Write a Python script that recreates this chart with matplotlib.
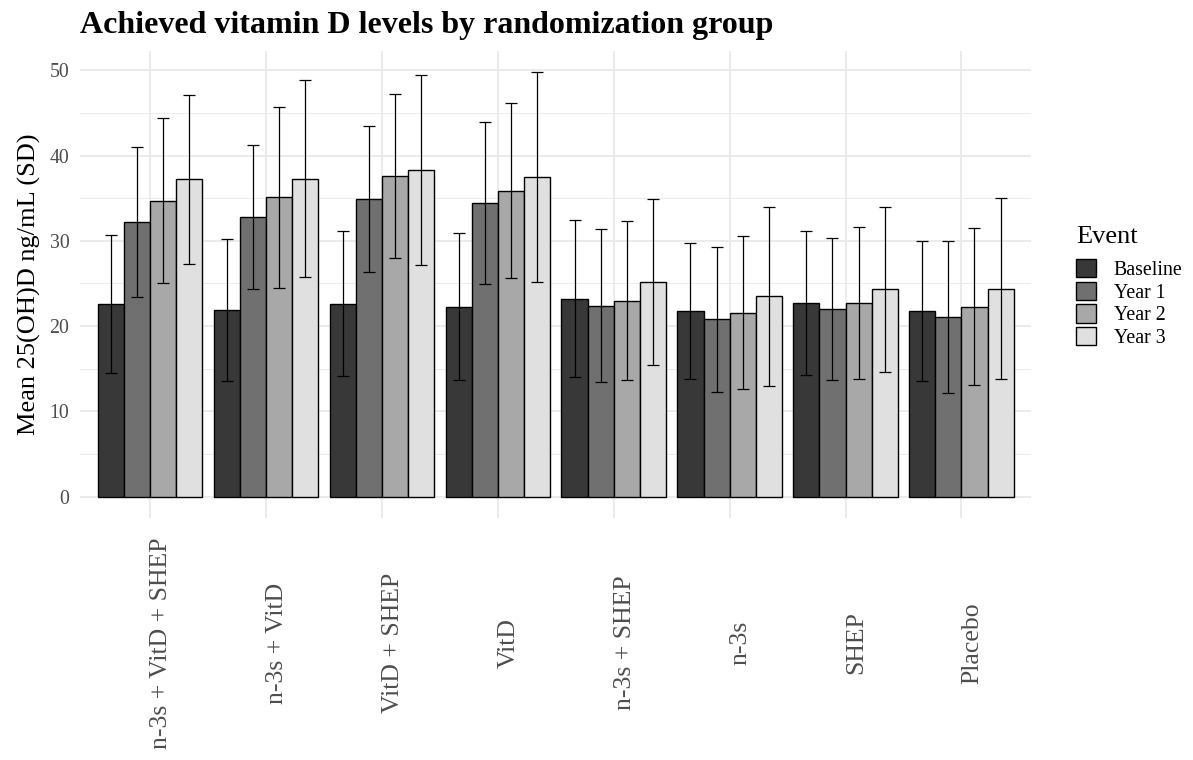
import numpy as np
import matplotlib
matplotlib.use('Agg')
import matplotlib.pyplot as plt
from matplotlib.patches import Patch
from matplotlib.ticker import MultipleLocator

plt.rcParams['font.family'] = ['Liberation Serif', 'DejaVu Serif']

groups = ['n-3s + VitD + SHEP', 'n-3s + VitD', 'VitD + SHEP', 'VitD',
          'n-3s + SHEP', 'n-3s', 'SHEP', 'Placebo']
events = ['Baseline', 'Year 1', 'Year 2', 'Year 3']

# mean 25(OH)D by group, one list per event
mean_baseline = [22.6, 21.9, 22.6, 22.3, 23.2, 21.8, 22.7, 21.8]
mean_year1 = [32.2, 32.8, 34.9, 34.4, 22.4, 20.8, 22.0, 21.1]
mean_year2 = [34.7, 35.1, 37.6, 35.9, 23.0, 21.6, 22.7, 22.3]
mean_year3 = [37.2, 37.3, 38.3, 37.5, 25.2, 23.5, 24.3, 24.4]

# standard deviations
sd_baseline = [8.1, 8.3, 8.5, 8.6, 9.2, 8.0, 8.4, 8.2]
sd_year1 = [8.8, 8.4, 8.6, 9.5, 9.0, 8.5, 8.3, 8.9]
sd_year2 = [9.7, 10.6, 9.6, 10.3, 9.3, 9.0, 8.9, 9.2]
sd_year3 = [9.9, 11.5, 11.1, 12.3, 9.7, 10.5, 9.7, 10.6]

fills = ['#383838', '#707070', '#a8a8a8', '#e0e0e0']

means = [mean_baseline, mean_year1, mean_year2, mean_year3]
sds = [sd_baseline, sd_year1, sd_year2, sd_year3]

fig = plt.figure(figsize=(11.93, 7.6), dpi=100)
ax = fig.add_axes([80.4 / 1193, 1 - 518 / 760, (1031 - 80.4) / 1193, (518 - 50.7) / 760])

x = np.arange(1, len(groups) + 1)
dodge = 0.9
bw = dodge / len(events)
for k, (m, s) in enumerate(zip(means, sds)):
    pos = x - dodge / 2 + bw * (k + 0.5)
    ax.bar(pos, m, width=bw, color=fills[k], edgecolor='black', linewidth=1.0, zorder=2)
    ax.errorbar(pos, m, yerr=s, fmt='none', ecolor='black', elinewidth=0.9,
                capsize=4, capthick=0.9, zorder=3)

top = max(np.max(np.array(m) + np.array(s)) for m, s in zip(means, sds))
ax.set_xlim(0.4, len(groups) + 0.6)
ax.set_ylim(-0.05 * top, top * 1.05)

ax.yaxis.set_major_locator(MultipleLocator(10))
ax.yaxis.set_minor_locator(MultipleLocator(5))
ax.set_xticks(x)
ax.set_xticklabels(groups, rotation=90, ha='left', va='center', fontsize=18.5, color='#4d4d4d')
ax.tick_params(axis='x', length=0, pad=125 * 0.72)
ax.tick_params(axis='y', which='both', length=0, labelsize=14.3, labelcolor='#4d4d4d', pad=8)

ax.grid(True, which='major', color='#ebebeb', linewidth=1.4, zorder=0)
ax.grid(True, which='minor', axis='y', color='#ebebeb', linewidth=0.7, zorder=0)
ax.set_axisbelow(True)
for sp in ax.spines.values():
    sp.set_visible(False)

ax.set_ylabel('Mean 25(OH)D ng/mL (SD)', fontsize=19, labelpad=6)

fig.text(80 / 1193, 1 - 33 / 760, 'Achieved vitamin D levels by randomization group',
         fontsize=23, fontweight='bold', ha='left', va='baseline')

handles = [Patch(facecolor=c, edgecolor='black', linewidth=1.0, label=e) for c, e in zip(fills, events)]
leg = fig.legend(handles=handles, loc='upper left', bbox_to_anchor=(1060 / 1193, 1 - 210 / 760),
                 frameon=False, title='Event', fontsize=14.3, title_fontsize=19,
                 handlelength=1.0, handleheight=1.05, handletextpad=0.9, labelspacing=0.08,
                 borderpad=0.3)
leg._legend_box.align = 'left'
# a little more room between the title and the keys
leg._legend_box.sep = 8

fig.savefig('out.png', dpi=100)
